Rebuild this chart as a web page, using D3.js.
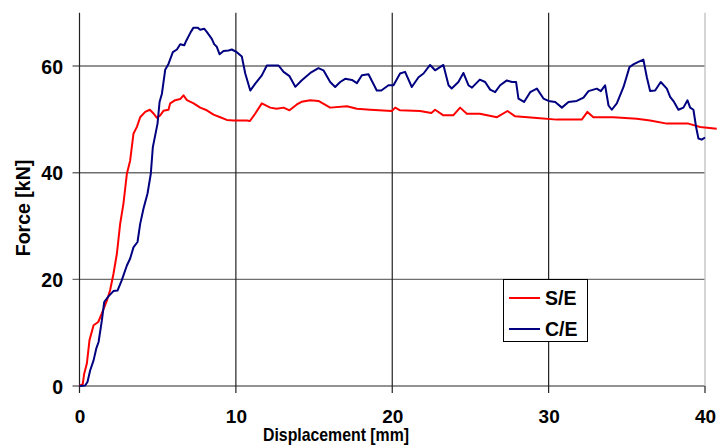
<!DOCTYPE html>
<html>
<head>
<meta charset="utf-8">
<script src="https://cdn.jsdelivr.net/npm/d3@7"></script>
<style>
  html, body { margin: 0; padding: 0; background: #fff; }
  svg { display: block; font-family: "Liberation Sans", Arial, sans-serif; font-weight: bold; }
</style>
</head>
<body>
<svg id="chart" width="717" height="446"></svg>
<script>
// --- data ---
const seriesNames = ["S/E", "C/E"];
const seriesColors = ["#ff0000", "#000080"];
const xTicks = [0, 10, 20, 30, 40];
const yTicks = [0, 20, 40, 60];

// S/E : [displacement mm, force kN]
const seData = [[0,0],[0.21,0.4],[0.3,2.3],[0.47,4.2],[0.64,8.6],[0.9,11.4],[1.2,12],[1.43,13.6],[1.75,16],[1.96,18],[2.17,21],[2.39,24.8],[2.6,30.4],[2.81,34.2],[3.03,39.8],[3.24,42.3],[3.45,47.3],[3.67,48.6],[3.88,50.4],[4.2,51.4],[4.5,51.8],[4.73,51.1],[4.95,50.3],[5.16,50.75],[5.37,51.6],[5.69,51.8],[5.8,53],[6.12,53.6],[6.44,53.8],[6.65,54.5],[6.87,53.6],[7.3,53],[7.72,52.2],[8.14,51.7],[8.57,50.9],[9,50.4],[9.42,49.9],[9.85,49.8],[10.7,49.8],[10.9,49.7],[11.24,51.1],[11.66,53],[12.2,52.2],[12.6,52],[13.05,52.2],[13.43,51.7],[13.9,52.8],[14.2,53.3],[14.75,53.6],[15.28,53.45],[16.03,52.2],[17.1,52.45],[17.74,52],[18.6,51.8],[19.97,51.57],[20.19,52.2],[20.5,51.7],[21.78,51.57],[22.5,51.2],[22.74,51.8],[23.27,50.76],[23.9,50.76],[24.34,52.2],[24.77,51.07],[25.6,51.07],[26.7,50.4],[27.37,51.57],[27.86,50.57],[29.25,50.26],[30.52,49.95],[32.12,49.95],[32.48,51.4],[32.86,50.4],[34.14,50.4],[35.64,50.1],[36.49,49.8],[37.56,49.2],[38.94,49.2],[39.69,48.57],[40.75,48.26]];

// C/E : [displacement mm, force kN]
const ceData = [[0,0],[0.36,0.1],[0.51,0.75],[0.68,2.9],[0.9,4.8],[1.07,7],[1.22,8.25],[1.43,12.3],[1.58,15.75],[1.85,16.8],[2.17,17.8],[2.43,17.9],[2.7,19.8],[3.03,22.6],[3.24,23.9],[3.45,26],[3.71,27],[3.88,30.4],[4.09,33.25],[4.35,36.1],[4.56,39.8],[4.69,44.8],[4.84,47],[4.99,49.2],[5.12,53.25],[5.27,54.8],[5.48,59.3],[5.69,60.4],[5.97,62.6],[6.23,63.1],[6.44,64.1],[6.7,63.9],[6.82,64.7],[7.12,66.4],[7.29,67.2],[7.55,67.2],[7.72,66.8],[7.97,67],[8.14,66.4],[8.46,65.1],[8.61,64.1],[8.78,63.6],[8.96,62.2],[9.21,62.8],[9.53,62.9],[9.74,63.1],[10.06,62.6],[10.38,61.8],[10.6,58.6],[10.92,55.4],[11.24,56.7],[11.66,58.25],[11.98,60.1],[12.73,60.1],[13.05,58.9],[13.43,58.1],[13.8,56.1],[14.2,57.3],[14.76,58.7],[15.28,59.6],[15.6,59.2],[16.03,57],[16.35,56.07],[16.67,57],[16.99,57.6],[17.42,57.4],[17.74,56.8],[18.06,58.26],[18.48,58.45],[19.01,55.4],[19.3,55.4],[19.76,56.4],[20.08,56.4],[20.5,58.6],[20.82,58.9],[21.25,56.07],[21.68,57.9],[22,58.6],[22.42,60.2],[22.74,59.2],[23.27,60.2],[23.6,56.4],[23.8,55.8],[24.23,57],[24.55,58.7],[24.87,56.4],[25.1,55.95],[25.6,57.45],[25.94,57],[26.26,55.57],[26.58,55.1],[26.9,56.4],[27.33,57.3],[27.65,57],[27.92,57],[28.07,53.9],[28.43,53.26],[28.82,55.1],[29.25,55.76],[29.67,53.9],[29.99,53.45],[30.42,53.26],[30.85,52.2],[31.27,53.26],[31.8,53.45],[32.23,54.07],[32.55,55.3],[33.08,55.76],[33.34,55.3],[33.61,56.4],[33.83,52.6],[34.04,51.8],[34.36,53],[34.79,56.07],[35.17,59.8],[35.42,60.3],[35.74,60.76],[36.06,61.2],[36.28,57.9],[36.49,55.3],[36.81,55.4],[37.17,57],[37.56,55.76],[37.77,54.2],[38.02,53.26],[38.3,51.8],[38.62,52.2],[38.88,53.57],[39.05,52.2],[39.26,51.8],[39.43,48.57],[39.58,46.4],[39.79,46.2],[40,46.6]];

// --- layout ---
const FONT = "19.5px";
const svg = d3.select("#chart");
const x = d3.scaleLinear().domain([0, 40]).range([79.5, 705]);
const y = d3.scaleLinear().domain([0, 70]).range([386, 12.7]);

// horizontal grid (gray) incl. left tick
svg.append("g").selectAll("line")
  .data(yTicks).join("line")
  .attr("x1", x(0) - 7).attr("x2", x(40))
  .attr("y1", d => y(d)).attr("y2", d => y(d))
  .attr("stroke", "#6e6e6e").attr("stroke-width", 1.4);

// vertical grid (dark) incl. bottom tick
svg.append("g").selectAll("line")
  .data(xTicks).join("line")
  .attr("x1", d => x(d)).attr("x2", d => x(d))
  .attr("y1", d => d === 40 ? y(0) : y(70))
  .attr("y2", y(0) + 7)
  .attr("stroke", "#222").attr("stroke-width", 1.2);

// light line at x = 40 (plot edge)
svg.append("line")
  .attr("x1", x(40)).attr("x2", x(40))
  .attr("y1", y(70)).attr("y2", y(0))
  .attr("stroke", "#c4c4c4").attr("stroke-width", 1.4);

// tick labels
const xAxis = d3.axisBottom(x).tickValues(xTicks).tickSize(0).tickPadding(0);
const gx = svg.append("g").attr("transform", `translate(0, 422.5)`).call(xAxis);
gx.select(".domain").remove();
gx.selectAll("text")
  .attr("font-family", "Liberation Sans, Arial, sans-serif")
  .attr("font-weight", "bold").attr("font-size", "19px")
  .attr("fill", "#000").attr("dy", "0");

const yAxis = d3.axisLeft(y).tickValues(yTicks).tickSize(0).tickPadding(0);
const gy = svg.append("g").attr("transform", `translate(63, 0)`).call(yAxis);
gy.select(".domain").remove();
gy.selectAll("text")
  .attr("font-family", "Liberation Sans, Arial, sans-serif")
  .attr("font-weight", "bold").attr("font-size", FONT)
  .attr("fill", "#000").attr("dy", "0.36em");

// axis titles
svg.append("text")
  .attr("transform", "translate(336, 441) scale(0.88, 1)")
  .attr("text-anchor", "middle").attr("font-size", "18px")
  .text("Displacement [mm]");

svg.append("text")
  .attr("transform", "translate(30, 208) rotate(-90)")
  .attr("text-anchor", "middle").attr("font-size", FONT)
  .text("Force [kN]");

// series
const line = d3.line().x(d => x(d[0])).y(d => y(d[1]));
[seData, ceData].forEach((data, i) => {
  svg.append("path")
    .datum(data)
    .attr("d", line)
    .attr("fill", "none")
    .attr("stroke", seriesColors[i])
    .attr("stroke-width", 2)
    .attr("stroke-linejoin", "round");
});

// legend
const leg = svg.append("g").attr("transform", "translate(503, 279)");
leg.append("rect")
  .attr("x", 0.5).attr("y", 0.5).attr("width", 84).attr("height", 62)
  .attr("fill", "#fff").attr("stroke", "#000").attr("stroke-width", 1);

seriesNames.forEach((name, i) => {
  const cy = 19 + i * 31;
  leg.append("line")
    .attr("x1", 6).attr("x2", 37)
    .attr("y1", cy).attr("y2", cy)
    .attr("stroke", seriesColors[i]).attr("stroke-width", 2);
  leg.append("text")
    .attr("x", 42).attr("y", cy + 7)
    .attr("font-size", FONT)
    .text(name);
});
</script>
</body>
</html>
